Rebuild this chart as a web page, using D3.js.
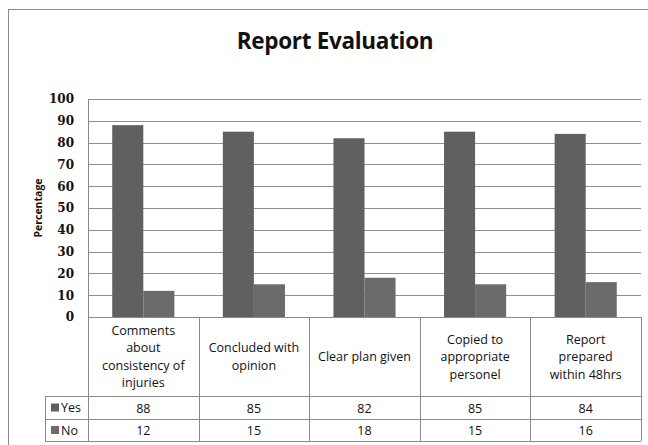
<!DOCTYPE html>
<html><head><meta charset="utf-8">
<script src="https://cdn.jsdelivr.net/npm/d3@7"></script>
<style>body{margin:0;background:#fff}svg{display:block}</style>
</head><body><svg id="c" width="648" height="445"></svg>
<script>
const categories = [["Comments","about","consistency of","injuries"],["Concluded with","opinion"],["Clear plan given"],["Copied to","appropriate","personel"],["Report","prepared","within 48hrs"]];
const seriesNames = ["Yes","No"];
const yesValues = [88,85,82,85,84];
const noValues = [12,15,18,15,16];
const yTicks = [0,10,20,30,40,50,60,70,80,90,100];

const svg = d3.select("#c");
const L=88, R=641, T=99, B=317;
const rowYes=[396,419], rowNo=[419,441], legL=45;
const colors = {Yes:"#606060", No:"#6b6b6b"};

svg.append("rect").attr("x",8.5).attr("y",9.5).attr("width",660).attr("height",460)
  .attr("fill","#fff").attr("stroke","#8a8a8a").attr("stroke-width",1);

svg.append("text").attr("x",335).attr("y",49).attr("text-anchor","middle")
  .attr("font-family","Open Sans").attr("font-weight","bold").attr("font-size",22.5)
  .attr("letter-spacing",-0.3).attr("fill","#111").text("Report Evaluation");

const x = d3.scaleBand().domain(d3.range(categories.length)).range([L,R]).paddingInner(0).paddingOuter(0);
const y = d3.scaleLinear().domain([0,100]).range([B,T]);
const inner = d3.scaleBand().domain(seriesNames).range([0,x.bandwidth()]).paddingOuter(0.78).paddingInner(0);

// gridlines
svg.append("g").selectAll("line").data(yTicks.filter(d=>d>0)).join("line")
  .attr("x1",L).attr("x2",R).attr("y1",d=>Math.round(y(d))+0.5).attr("y2",d=>Math.round(y(d))+0.5)
  .attr("stroke","#8f8f8f").attr("stroke-width",1);

// y axis
const yAxis = d3.axisLeft(y).tickValues(yTicks).tickSize(0).tickPadding(14);
const ga = svg.append("g").attr("transform",`translate(${L},0)`).call(yAxis);
ga.select(".domain").remove();
ga.selectAll("text").attr("font-family","DejaVu Serif").attr("font-weight","bold").attr("font-size",12).attr("fill","#111");

svg.append("line").attr("x1",L+0.5).attr("x2",L+0.5).attr("y1",T).attr("y2",B).attr("stroke","#8a8a8a");

svg.append("text").attr("transform",`translate(42,${(T+B)/2}) rotate(-90)`).attr("text-anchor","middle")
  .attr("font-family","Open Sans").attr("font-weight","bold").attr("font-size",10.5).attr("fill","#111").text("Percentage");

// bars
const data = [];
categories.forEach((c,i)=>{ data.push({i,s:"Yes",v:yesValues[i]}); data.push({i,s:"No",v:noValues[i]}); });
svg.append("g").selectAll("rect").data(data).join("rect")
  .attr("x",d=>x(d.i)+inner(d.s)).attr("width",inner.bandwidth())
  .attr("y",d=>y(d.v)).attr("height",d=>y(0)-y(d.v)).attr("fill",d=>colors[d.s]);

// table
const tg = svg.append("g");
const stroke="#8a8a8a";
const hl=(x1,x2,yy)=>tg.append("line").attr("x1",x1).attr("x2",x2).attr("y1",yy+0.5).attr("y2",yy+0.5).attr("stroke",stroke);
const vl=(xx,y1,y2)=>tg.append("line").attr("x1",xx+0.5).attr("x2",xx+0.5).attr("y1",y1).attr("y2",y2).attr("stroke",stroke);
hl(L,R,B); hl(legL,R,rowYes[0]); hl(legL,R,rowNo[0]); hl(legL,R,rowNo[1]);
vl(legL,rowYes[0],rowNo[1]);
const bounds = categories.map((c,i)=>x(i)).concat([R]);
bounds.forEach(b=>vl(Math.round(b),B,rowNo[1]));

const font = "Open Sans", fs = 12.5;
categories.forEach((lines,i)=>{
  const cx = x(i)+x.bandwidth()/2;
  const lh=17.5, mid=(B+rowYes[0])/2;
  const t = tg.append("text").attr("text-anchor","middle").attr("font-family",font).attr("font-size",fs).attr("fill","#111");
  lines.forEach((ln,k)=>{
    t.append("tspan").attr("x",cx).attr("y",mid+(k-(lines.length-1)/2)*lh+4.5).text(ln);
  });
  tg.append("text").attr("x",cx).attr("y",(rowYes[0]+rowYes[1])/2+5).attr("text-anchor","middle")
    .attr("font-family",font).attr("font-size",fs).attr("fill","#111").text(yesValues[i]);
  tg.append("text").attr("x",cx).attr("y",(rowNo[0]+rowNo[1])/2+5).attr("text-anchor","middle")
    .attr("font-family",font).attr("font-size",fs).attr("fill","#111").text(noValues[i]);
});

// legend keys in table
[[ "Yes", rowYes ],[ "No", rowNo ]].forEach(([s,r])=>{
  const cy=(r[0]+r[1])/2;
  tg.append("rect").attr("x",51).attr("y",cy-4).attr("width",8).attr("height",8).attr("fill",colors[s]);
  tg.append("text").attr("x",61).attr("y",cy+4.5).attr("font-family",font).attr("font-size",fs).attr("fill","#111").text(s);
});
</script></body></html>
